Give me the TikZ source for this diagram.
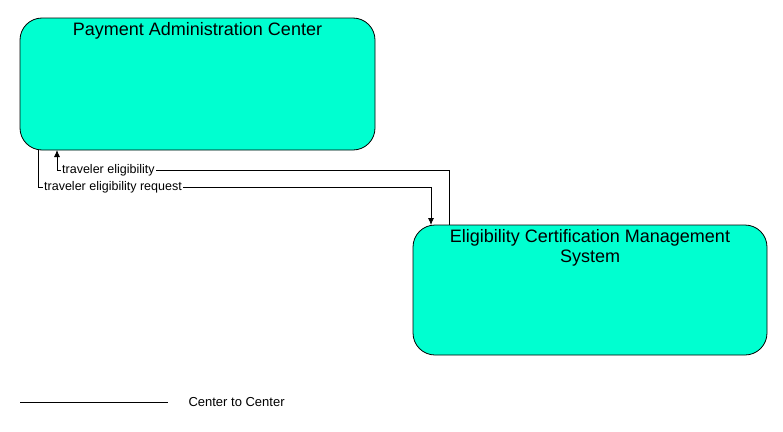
\documentclass[tikz,border=0pt]{standalone}
\usepackage{fontspec}
\setmainfont{Liberation Sans}
\usetikzlibrary{arrows.meta}
\definecolor{boxc}{RGB}{0,255,208}
\begin{document}
\begin{tikzpicture}[x=1pt,y=-1pt,
  box/.style={draw=black,fill=boxc,rounded corners=22pt,line width=0.8pt},
  title/.style={font=\fontsize{18}{20}\selectfont,align=center,anchor=north},
  lbl/.style={font=\fontsize{12.5}{14}\selectfont,anchor=west,inner sep=1pt,fill=white},
  flow/.style={line width=0.8pt,-{Latex[length=7pt,width=6pt]}}]
\useasboundingbox (0,0) rectangle (783,431);
\draw[box] (20,18) rectangle (375,150);
\node[title] (pac) at (197.5,19) {Payment Administration Center};
\draw[box] (413,225) rectangle (767,355);
\node[title] (ecm) at (590,226) {Eligibility Certification Management\\System};
\coordinate (a1) at (449,225);
\coordinate (a2) at (57,150);
\coordinate (b1) at (38,150);
\coordinate (b2) at (431,225);
\draw[flow] (a1) |- (57,170) -- (a2);
\node[lbl] (l1) at (61,170) {traveler eligibility};
\draw[flow] (b1) |- (431,187) -- (b2);
\node[lbl] (l2) at (43,187) {traveler eligibility request};
\coordinate (g1) at (20,402);
\coordinate (g2) at (168,402);
\draw[line width=0.8pt] (g1) -- (g2);
\node[font=\fontsize{13}{15}\selectfont,anchor=west] (gl) at (185,402) {Center to Center};
\end{tikzpicture}
\end{document}
